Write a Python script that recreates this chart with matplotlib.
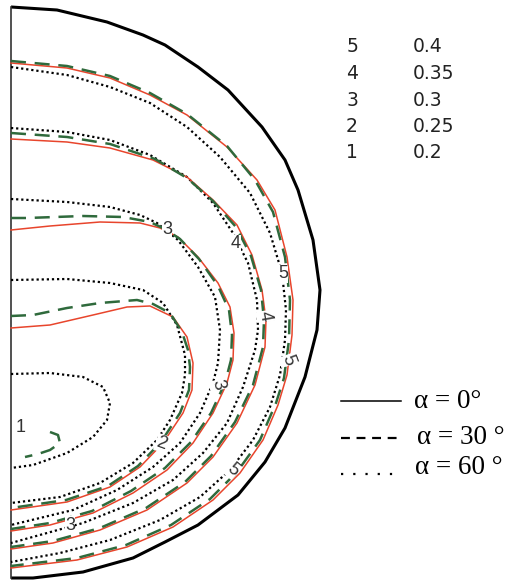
import matplotlib.pyplot as plt
from matplotlib.lines import Line2D

# contour traces (image units, y downwards)
boundary = [(11, 7), (57, 10), (107, 22), (143, 35), (165, 45), (198, 67), (228, 90),
            (262, 127), (285, 160), (298, 190), (313, 240), (320, 290), (317, 330),
            (305, 377), (285, 428), (265, 462), (238, 495), (198, 525), (165, 542),
            (133, 558), (83, 572), (33, 578), (11, 578)]

# alpha = 0 deg (solid red)
solid_5 = [(11, 63), (67, 68), (110, 78), (150, 95), (187, 115), (227, 147), (257, 180),
           (275, 210), (287, 257), (293, 300), (292, 335), (287, 375), (278, 405),
           (263, 440), (240, 473), (213, 500), (173, 527), (127, 547), (77, 560), (11, 568)]
solid_4 = [(11, 139), (67, 142), (110, 148), (153, 160), (187, 177), (213, 200), (237, 225),
           (252, 255), (262, 290), (266, 320), (265, 347), (255, 385), (237, 423),
           (213, 457), (187, 483), (147, 510), (100, 530), (53, 543), (11, 549)]
solid_3 = [(11, 230), (50, 226), (100, 222), (140, 223), (160, 228), (178, 237), (198, 257),
           (218, 283), (230, 307), (234, 333), (233, 360), (227, 383), (213, 413),
           (193, 443), (167, 470), (133, 493), (93, 513), (50, 525), (11, 531)]
solid_2 = [(11, 328), (50, 325), (93, 315), (127, 307), (150, 306), (173, 317), (187, 337),
           (193, 363), (192, 390), (183, 413), (163, 443), (140, 467), (110, 487),
           (67, 502), (11, 510)]

# alpha = 30 deg (dashed green)
dashed_5 = [(11, 61), (67, 66), (110, 76), (150, 93), (187, 114), (227, 146), (255, 180),
            (273, 212), (285, 257), (290, 300), (289, 340), (284, 378), (276, 403),
            (260, 440), (237, 472), (210, 499), (171, 525), (126, 545), (77, 558), (11, 566)]
dashed_4 = [(11, 133), (67, 137), (110, 144), (155, 159), (187, 178), (213, 201), (236, 227),
            (251, 256), (261, 290), (264, 320), (263, 347), (253, 385), (235, 422),
            (211, 456), (185, 482), (146, 508), (100, 528), (53, 541), (11, 547)]
dashed_3 = [(11, 218), (27, 218), (83, 216), (123, 217), (150, 222), (165, 229), (180, 239),
            (199, 259), (218, 286), (229, 310), (232, 335), (231, 360), (225, 383),
            (211, 413), (191, 442), (165, 468), (131, 491), (92, 511), (50, 523), (11, 529)]
dashed_2 = [(11, 316), (33, 315), (67, 308), (100, 303), (137, 300), (153, 304), (170, 313),
            (182, 332), (188, 350), (190, 367), (189, 390), (180, 413), (161, 442),
            (138, 466), (108, 486), (66, 500), (11, 508)]
dashed_1 = [(50, 432), (58, 435), (60, 443), (50, 450), (38, 454), (25, 457)]

# alpha = 60 deg (dotted black)
dotted_5 = [(11, 67), (67, 75), (110, 87), (150, 103), (187, 127), (220, 157), (250, 193),
            (270, 233), (282, 273), (286, 310), (285, 340), (280, 375), (270, 407),
            (253, 440), (230, 470), (200, 497), (160, 520), (110, 540), (60, 553), (11, 562)]
dotted_4 = [(11, 128), (67, 132), (110, 140), (150, 155), (187, 177), (213, 203), (233, 233),
            (248, 263), (257, 300), (258, 330), (255, 350), (243, 387), (227, 423),
            (203, 453), (173, 480), (133, 503), (83, 523), (11, 543)]
dotted_3 = [(11, 199), (67, 202), (110, 207), (140, 215), (157, 223), (178, 240), (198, 267),
            (215, 297), (220, 330), (218, 363), (213, 383), (200, 413), (180, 443),
            (153, 467), (117, 490), (73, 510), (11, 525)]
dotted_2 = [(11, 280), (67, 279), (110, 283), (143, 290), (163, 303), (177, 325), (185, 355),
            (185, 375), (182, 393), (170, 420), (157, 440), (133, 463), (100, 483),
            (60, 497), (11, 503)]
dotted_1 = [(11, 374), (50, 373), (83, 377), (103, 387), (110, 403), (107, 420), (93, 437),
            (67, 453), (33, 465), (11, 468)]

# contour labels: (text, x, y, rotation)
contour_labels = [("3", 167, 230, 0), ("4", 236, 244, 0), ("5", 283, 274, 0),
                  ("4", 265, 316, -80), ("5", 288, 360, -70), ("3", 218, 385, -75),
                  ("2", 161, 443, -20), ("5", 233, 470, -40), ("3", 70, 525, 0),
                  ("1", 21, 428, 0)]

level_ids = ["5", "4", "3", "2", "1"]
level_values = ["0.4", "0.35", "0.3", "0.25", "0.2"]
alpha_labels = ["α = 0°", "α = 30 °", "α = 60 °"]

RED = "#e8452c"
GREEN = "#2f6a3c"


def draw(ax, pts, **kw):
    xs = [p[0] for p in pts]
    ys = [p[1] for p in pts]
    ax.plot(xs, ys, **kw)


fig = plt.figure(figsize=(5.11, 5.8), dpi=100)
ax = fig.add_axes([0, 0, 1, 1])
ax.set_xlim(0, 511)
ax.set_ylim(580, 0)
ax.axis("off")

# outline
draw(ax, boundary, color="black", lw=2.2, solid_capstyle="butt")
ax.plot([boundary[0][0], boundary[-1][0]], [boundary[0][1], boundary[-1][1]],
        color="#333333", lw=1.2)

for c in [dotted_5, dotted_4, dotted_3, dotted_2, dotted_1]:
    draw(ax, c, color="black", lw=1.6, ls=(0, (1, 1.3)))
for c in [solid_5, solid_4, solid_3, solid_2]:
    draw(ax, c, color=RED, lw=1.1)
for c in [dashed_5, dashed_4, dashed_3, dashed_2, dashed_1]:
    draw(ax, c, color=GREEN, lw=1.8, ls=(0, (6, 3.5)))

for txt, x, y, rot in contour_labels:
    ax.text(x, y, txt, ha="center", va="center", fontsize=13, color="#333333",
            rotation=rot, family="Liberation Sans",
            bbox=dict(fc="white", ec="none", pad=0.3))

# level table
for i, (lid, val) in enumerate(zip(level_ids, level_values)):
    y = 47 + i * 26.5
    ax.text(352, y, lid, ha="center", va="center", fontsize=13.5,
            family="DejaVu Sans", color="#222222")
    ax.text(413, y, val, ha="left", va="center", fontsize=13.5,
            family="DejaVu Sans", color="#222222")

# alpha legend
styles = [dict(ls="-", lw=1.1), dict(ls=(0, (4, 3)), lw=1.6), dict(ls=(0, (1, 4.5)), lw=1.6)]
rows = [401, 437, 468]
text_x = [414, 417, 415]
line_y_off = [0, 1, 6]
for lab, st, y, tx, off in zip(alpha_labels, styles, rows, text_x, line_y_off):
    ax.add_line(Line2D([341, 401], [y + off, y + off], color="black", **st))
    ax.text(tx, y, lab, ha="left", va="center", fontsize=19.5,
            family="Liberation Serif", color="black")

fig.savefig("out.png", dpi=100)
